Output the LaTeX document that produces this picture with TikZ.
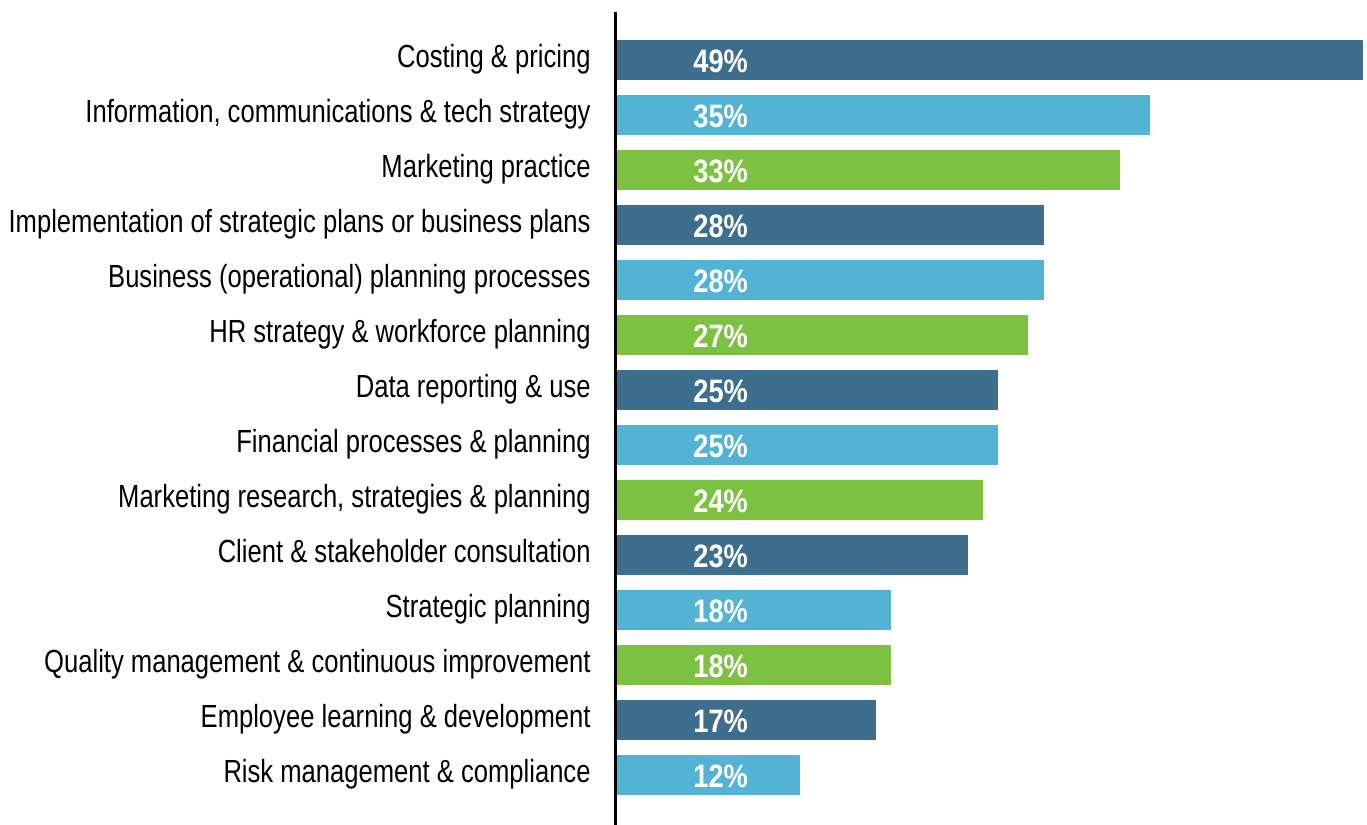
\documentclass[tikz,border=0pt]{standalone}
\usepackage{fontspec}
\setmainfont{Liberation Sans}[FakeStretch=0.84]
\newfontfamily\catfont{Liberation Sans}[FakeStretch=0.80]
\usepackage{xcolor}
\usetikzlibrary{positioning}
\definecolor{bardark}{HTML}{3D6E8E}
\definecolor{barlight}{HTML}{52B3D5}
\definecolor{bargreen}{HTML}{7DC142}
\begin{document}
\begin{tikzpicture}[
    x=0.5pt, y=-0.5pt,
    bar/.style={draw=none, inner sep=0pt, minimum height=20pt, anchor=west},
    catlabel/.style={inner sep=0pt, anchor=base east, font=\catfont\fontsize{16}{18}\selectfont},
    pctlabel/.style={inner sep=0pt, anchor=base west, text=white, font=\fontsize{16.2}{18}\selectfont\bfseries}
]
\useasboundingbox (0,0) rectangle (1367,825);

% Barras
\foreach \i/\txt/\val/\col in {
    1/Costing \& pricing/49/bardark,
    2/{Information, communications \& tech strategy}/35/barlight,
    3/Marketing practice/33/bargreen,
    4/Implementation of strategic plans or business plans/28/bardark,
    5/Business (operational) planning processes/28/barlight,
    6/HR strategy \& workforce planning/27/bargreen,
    7/Data reporting \& use/25/bardark,
    8/Financial processes \& planning/25/barlight,
    9/{Marketing research, strategies \& planning}/24/bargreen,
    10/Client \& stakeholder consultation/23/bardark,
    11/Strategic planning/18/barlight,
    12/Quality management \& continuous improvement/18/bargreen,
    13/Employee learning \& development/17/bardark,
    14/Risk management \& compliance/12/barlight}{
  \pgfmathsetmacro{\yc}{60+55*(\i-1)}
  \node[bar, fill=\col, minimum width=\val*7.612pt] (bar\i) at (617,\yc) {};
  \node[pctlabel] (pct\i) at (693,\yc+12) {\val\%};
  \node[catlabel] (cat\i) at (591,\yc+7) {\txt};
}

% Eje
\coordinate (axistop) at (615.5,12);
\coordinate (axisbottom) at (615.5,825);
\draw[line width=1.5pt, black] (axistop) -- (axisbottom);

\end{tikzpicture}
\end{document}
